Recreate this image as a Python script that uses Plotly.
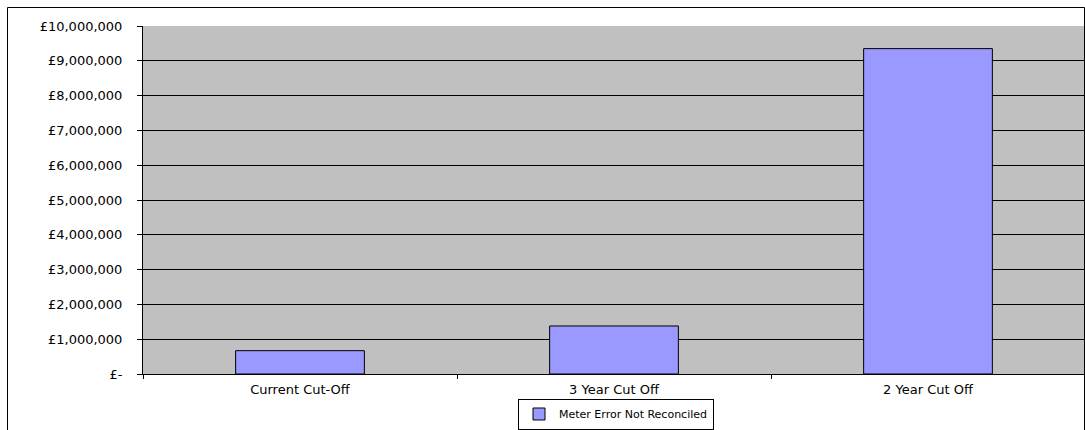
import plotly.graph_objects as go

categories = ["Current Cut-Off", "3 Year Cut Off", "2 Year Cut Off"]
values = [670000, 1380000, 9350000]
series_name = "Meter Error Not Reconciled"
tick_values = [0, 1000000, 2000000, 3000000, 4000000, 5000000, 6000000, 7000000, 8000000, 9000000, 10000000]
tick_labels = ["£-", "£1,000,000", "£2,000,000", "£3,000,000", "£4,000,000", "£5,000,000",
               "£6,000,000", "£7,000,000", "£8,000,000", "£9,000,000", "£10,000,000"]

W, H = 1085, 430
L, R, T, B = 143, 0, 26, 56
pw, ph = W - L - R, H - T - B

def px_x(p):
    return (p - L) / pw

def px_y(p):
    return (H - B - p) / ph

font = dict(family="DejaVu Sans, Arial, sans-serif", size=12, color="black")
tick_font = dict(family="DejaVu Sans, Arial, sans-serif", size=13, color="black")

fig = go.Figure()
fig.add_trace(go.Bar(
    x=categories, y=values, name=series_name,
    marker=dict(color="#9999FF", line=dict(color="black", width=1)),
    width=0.41, showlegend=True,
))

fig.update_layout(
    width=W, height=H,
    margin=dict(l=L, r=R, t=T, b=B, pad=0, autoexpand=False),
    paper_bgcolor="white",
    plot_bgcolor="#C0C0C0",
    font=font,
    showlegend=True,
    legend=dict(
        orientation="h", x=px_x(616), xanchor="center", y=px_y(429.5), yanchor="bottom",
        bordercolor="black", borderwidth=1, bgcolor="white",
        font=dict(family="DejaVu Sans, Arial, sans-serif", size=11, color="black"),
        itemwidth=30,
    ),
    xaxis=dict(
        showline=True, linecolor="black", linewidth=1,
        ticks="outside", tickson="boundaries", ticklen=4, tickcolor="black",
        showgrid=False, ticklabelstandoff=3, tickfont=tick_font,
    ),
    yaxis=dict(
        range=[0, 10000000], tickvals=tick_values, ticktext=tick_labels,
        showline=True, linecolor="black", linewidth=1,
        ticks="outside", ticklen=5, tickcolor="black",
        showgrid=True, gridcolor="black", gridwidth=1,
        zeroline=False, ticklabelstandoff=12, tickfont=tick_font,
    ),
    shapes=[dict(
        type="rect", xref="paper", yref="paper",
        x0=px_x(7.5), x1=px_x(1084.5), y0=px_y(7.5), y1=px_y(436),
        line=dict(color="black", width=1), fillcolor="rgba(0,0,0,0)", layer="above",
    )],
)

fig.write_html("out.html")
